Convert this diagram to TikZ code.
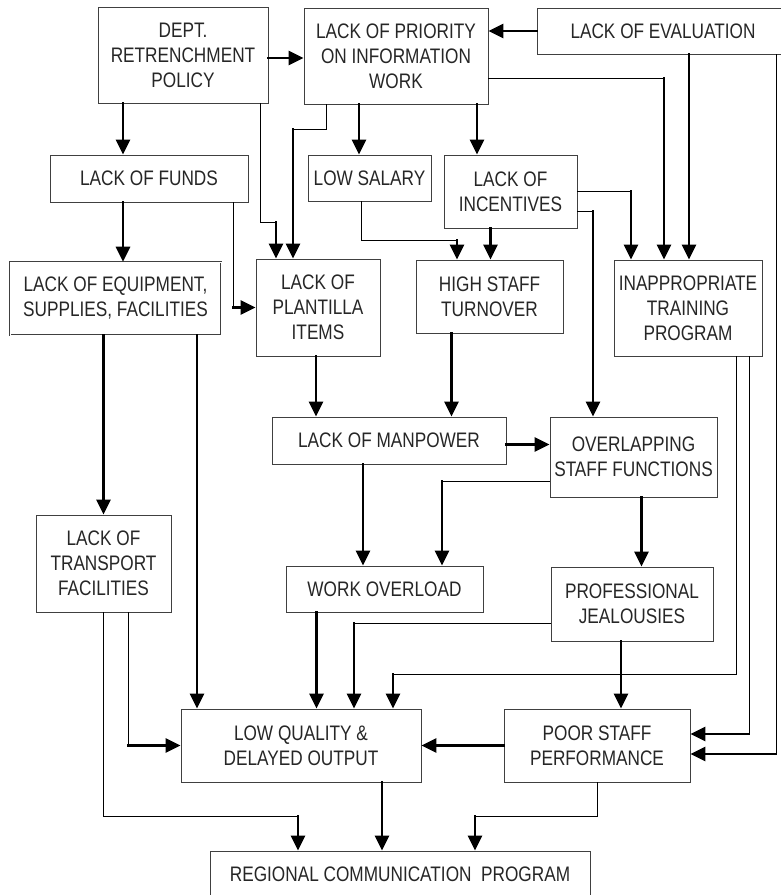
\documentclass[tikz,border=0pt]{standalone}
\usepackage{fontspec}
\setmainfont{Liberation Sans}[FakeStretch=0.82]
\usetikzlibrary{arrows.meta}

\begin{document}
\begin{tikzpicture}[x=1pt, y=-1pt,
    cause box/.style={draw=black!75, line width=0.8pt, align=center, inner sep=0pt, text=black!85, font=\fontsize{21}{25}\selectfont},
    thin link/.style={line width=0.8pt},
    main arrow/.style={line width=2.8pt, line cap=rect, -{Triangle[length=15pt,width=14pt]}},
  ]
\useasboundingbox (0,0) rectangle (780,895);

% causes
\node[cause box, minimum width=170, minimum height=96] (dept) at (183,55) {DEPT.\\RETRENCHMENT\\POLICY};
\node[cause box, minimum width=184, minimum height=96] (prio) at (396,56) {LACK OF PRIORITY\\ON INFORMATION\\WORK};
\node[cause box, minimum width=252, minimum height=46] (eval) at (663,31) {LACK OF EVALUATION};
\node[cause box, minimum width=198, minimum height=47] (funds) at (149,178.5) {LACK OF FUNDS};
\node[cause box, minimum width=123, minimum height=46] (salary) at (369.5,178) {LOW SALARY};
\node[cause box, minimum width=133, minimum height=73] (incent) at (510.5,191.5) {LACK OF\\INCENTIVES};
\node[cause box, double, double distance=1pt, line width=0.6pt, minimum width=211, minimum height=73] (equip) at (115.5,298.5) {LACK OF EQUIPMENT,\\SUPPLIES, FACILITIES};
\node[cause box, minimum width=124, minimum height=97] (plant) at (318,307.5) {LACK OF\\PLANTILLA\\ITEMS};
\node[cause box, minimum width=147, minimum height=73] (turn) at (489.5,296.5) {HIGH STAFF\\TURNOVER};
\node[cause box, minimum width=148, minimum height=96] (train) at (688,308) {INAPPROPRIATE\\TRAINING\\PROGRAM};
\node[cause box, minimum width=234, minimum height=47] (manp) at (389,440.5) {LACK OF MANPOWER};
\node[cause box, minimum width=167, minimum height=80] (overlap) at (633.5,457) {OVERLAPPING\\STAFF FUNCTIONS};
\node[cause box, minimum width=135, minimum height=97] (transp) at (103.5,563.5) {LACK OF\\TRANSPORT\\FACILITIES};
\node[cause box, minimum width=197, minimum height=46] (overl) at (384.5,589) {WORK OVERLOAD};
\node[cause box, minimum width=162, minimum height=74] (jeal) at (632,604) {PROFESSIONAL\\JEALOUSIES};
\node[cause box, minimum width=240, minimum height=73] (lowq) at (301,745.5) {LOW QUALITY \&\\DELAYED OUTPUT};
\node[cause box, minimum width=186, minimum height=73] (poor) at (597,745.5) {POOR STAFF\\PERFORMANCE};
\node[cause box, minimum width=380, minimum height=47] (rcp) at (400,874.5) {REGIONAL COMMUNICATION\ \ PROGRAM};

% links from the top row
\draw[main arrow] ([yshift=-3]dept.east) -- ([yshift=-3]dept.east -| prio.west);
\draw[main arrow] (eval.west) -- (eval.west -| prio.east);
\draw[main arrow] ([xshift=-60]dept.south) -- ([xshift=-60]dept.south |- funds.north);
\draw[thin link] ([xshift=-8]dept.south east) |- (276,222) coordinate (d1);
\draw[main arrow] (d1) -- (d1 |- plant.north);
\draw[thin link] ([xshift=23]prio.south west) |- (293,129) coordinate (e1);
\draw[main arrow] (e1) -- (e1 |- plant.north);
\draw[main arrow] ([xshift=-37]prio.south) -- ([xshift=-37]prio.south |- salary.north);
\draw[main arrow] ([xshift=81]prio.south) -- ([xshift=81]prio.south |- incent.north);
\draw[thin link] ([yshift=-22]prio.east) -- ([yshift=-22]prio.east -| 664,0) coordinate (h1);
\draw[main arrow] (h1) -- (h1 |- train.north);
\draw[main arrow] ([xshift=26]eval.south) -- ([xshift=26]eval.south |- train.north);

% second row
\draw[thin link] (incent.east) -- (incent.east -| 631,0) coordinate (j1);
\draw[main arrow] (j1) -- (j1 |- train.north);
\draw[thin link] ([yshift=-20]incent.east) -- ([yshift=-20]incent.east -| 593,0) coordinate (k1);
\draw[main arrow] (k1) -- (k1 |- overlap.north);
\draw[main arrow] ([xshift=-20]incent.south) -- ([xshift=-20]incent.south |- turn.north);
\draw[thin link] ([xshift=-8]salary.south) |- (457,240) coordinate (m1);
\draw[main arrow] (m1) -- (m1 |- turn.north);
\draw[thin link] ([xshift=84]funds.south) -- ([xshift=84]funds.south |- plant.west) coordinate (n1);
\draw[main arrow] (n1) -- (plant.west);
\draw[main arrow] ([xshift=-26]funds.south) -- ([xshift=-26]funds.south |- equip.north);

% middle
\draw[main arrow] (transp.north |- equip.south) -- (transp.north);
\draw[main arrow] (equip.south -| 197,0) -- (197,0 |- lowq.north);
\draw[main arrow] ([xshift=-2]plant.south) -- ([xshift=-2]plant.south |- manp.north);
\draw[main arrow] ([xshift=-38]turn.south) -- ([xshift=-38]turn.south |- manp.north);
\draw[main arrow] ([yshift=-4]manp.east) -- ([yshift=-4]manp.east -| overlap.west);
\draw[thin link] ([yshift=-24]overlap.west) -- ([yshift=-24]overlap.west -| 442,0) coordinate (u1);
\draw[main arrow] (u1) -- (u1 |- overl.north);
\draw[main arrow] ([xshift=-26]manp.south) -- ([xshift=-26]manp.south |- overl.north);
\draw[main arrow] ([xshift=8]overlap.south) -- ([xshift=8]overlap.south |- jeal.north);

% lower part
\draw[thin link] ([xshift=25]transp.south) -- ([xshift=25]transp.south |- lowq.west) coordinate (x1);
\draw[main arrow] (x1) -- (lowq.west);
\draw[thin link] (transp.south) |- (298,816) coordinate (y1);
\draw[main arrow] (y1) -- (y1 |- rcp.north);
\draw[main arrow] ([xshift=-68]overl.south) -- ([xshift=-68]overl.south |- lowq.north);
\draw[thin link] ([yshift=-19]jeal.west) -- ([yshift=-19]jeal.west -| 354,0) coordinate (a1);
\draw[main arrow] (a1) -- (a1 |- lowq.north);
\draw[thin link] ([xshift=48]train.south) |- (393,674) coordinate (b1);
\draw[main arrow] (b1) -- (b1 |- lowq.north);
\draw[main arrow] ([xshift=-11]jeal.south) -- ([xshift=-11]jeal.south |- poor.north);
\draw[thin link] ([xshift=61]train.south) -- ([xshift=61]train.south |- 0,734) coordinate (c1);
\draw[main arrow] (c1) -- (c1 -| poor.east);
\draw[thin link] ([xshift=113]eval.south) -- ([xshift=113]eval.south |- 0,754) coordinate (c2);
\draw[main arrow] (c2) -- (c2 -| poor.east);
\draw[main arrow] (poor.west) -- (lowq.east);
\draw[main arrow] ([xshift=81]lowq.south) -- ([xshift=81]lowq.south |- rcp.north);
\draw[thin link] (poor.south) |- (475,816) coordinate (h2);
\draw[main arrow] (h2) -- (h2 |- rcp.north);
\end{tikzpicture}
\end{document}
